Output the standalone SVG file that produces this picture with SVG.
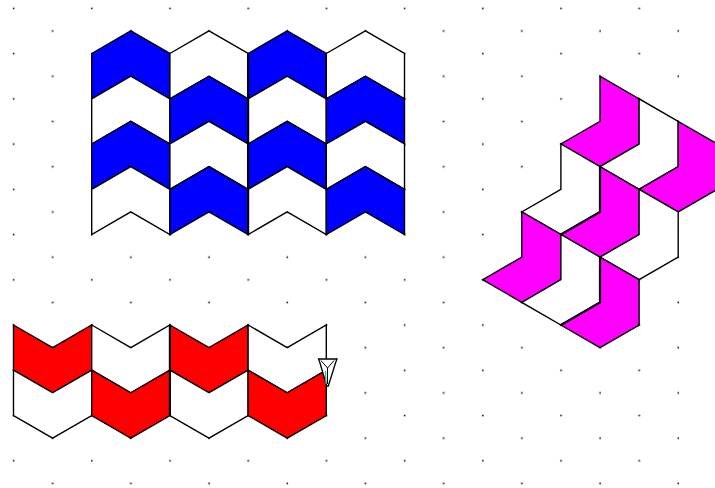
<svg xmlns="http://www.w3.org/2000/svg" width="715" height="488" viewBox="0 0 715 488">
<style>
.t{stroke:#000;stroke-width:1.4;stroke-linejoin:miter}
.b{fill:#0000FF}
.r{fill:#FF0000}
.m{fill:#FF00FF}
.w{fill:#FFFFFF}
.bold{stroke:#000;stroke-width:2.2;fill:none}
</style>
<defs>
<pattern id="dots" patternUnits="userSpaceOnUse" x="0" y="0" width="78.2" height="45.24">
<rect x="12.8" y="7.6" width="1.6" height="1.6" fill="#111"/>
<rect x="51.9" y="30.2" width="1.6" height="1.6" fill="#111"/>
</pattern>
</defs>
<rect width="715" height="488" fill="#FFFFFF"/>
<rect id="grid" width="715" height="488" fill="url(#dots)"/>

<g id="blue" class="t">
<polygon class="b" points="91.7,53.5 130.8,30.9 169.9,53.5 169.9,98.8 130.8,76.2 91.7,98.8"/>
<polygon class="w" points="91.7,98.8 130.8,76.2 169.9,98.8 169.9,144 130.8,121.4 91.7,144"/>
<polygon class="b" points="91.7,144 130.8,121.4 169.9,144 169.9,189.3 130.8,166.6 91.7,189.3"/>
<polygon class="w" points="91.7,189.3 130.8,166.6 169.9,189.3 169.9,234.5 130.8,211.9 91.7,234.5"/>

<polygon class="w" points="169.9,53.5 209,30.9 248.1,53.5 248.1,98.8 209,76.2 169.9,98.8"/>
<polygon class="b" points="169.9,98.8 209,76.2 248.1,98.8 248.1,144 209,121.4 169.9,144"/>
<polygon class="w" points="169.9,144 209,121.4 248.1,144 248.1,189.3 209,166.6 169.9,189.3"/>
<polygon class="b" points="169.9,189.3 209,166.6 248.1,189.3 248.1,234.5 209,211.9 169.9,234.5"/>

<polygon class="b" points="248.1,53.5 287.2,30.9 326.3,53.5 326.3,98.8 287.2,76.2 248.1,98.8"/>
<polygon class="w" points="248.1,98.8 287.2,76.2 326.3,98.8 326.3,144 287.2,121.4 248.1,144"/>
<polygon class="b" points="248.1,144 287.2,121.4 326.3,144 326.3,189.3 287.2,166.6 248.1,189.3"/>
<polygon class="w" points="248.1,189.3 287.2,166.6 326.3,189.3 326.3,234.5 287.2,211.9 248.1,234.5"/>

<polygon class="w" points="326.3,53.5 365.4,30.9 404.5,53.5 404.5,98.8 365.4,76.2 326.3,98.8"/>
<polygon class="b" points="326.3,98.8 365.4,76.2 404.5,98.8 404.5,144 365.4,121.4 326.3,144"/>
<polygon class="w" points="326.3,144 365.4,121.4 404.5,144 404.5,189.3 365.4,166.6 326.3,189.3"/>
<polygon class="b" points="326.3,189.3 365.4,166.6 404.5,189.3 404.5,234.5 365.4,211.9 326.3,234.5"/>
<line class="bold" x1="248.1" y1="53.5" x2="248.1" y2="234.5"/>
</g>

<g id="red" class="t">
<polygon class="r" points="13.5,325 52.6,347.6 91.7,325 91.7,370.2 52.6,392.8 13.5,370.2"/>
<polygon class="w" points="13.5,370.2 52.6,392.8 91.7,370.2 91.7,415.5 52.6,438.1 13.5,415.5"/>
<polygon class="w" points="91.7,325 130.8,347.6 169.9,325 169.9,370.2 130.8,392.8 91.7,370.2"/>
<polygon class="r" points="91.7,370.2 130.8,392.8 169.9,370.2 169.9,415.5 130.8,438.1 91.7,415.5"/>
<polygon class="r" points="169.9,325 209,347.6 248.1,325 248.1,370.2 209,392.8 169.9,370.2"/>
<polygon class="w" points="169.9,370.2 209,392.8 248.1,370.2 248.1,415.5 209,438.1 169.9,415.5"/>
<polygon class="w" points="248.1,325 287.2,347.6 326.3,325 326.3,370.2 287.2,392.8 248.1,370.2"/>
<polygon class="r" points="248.1,370.2 287.2,392.8 326.3,370.2 326.3,415.5 287.2,438.1 248.1,415.5"/>
<line class="bold" x1="169.9" y1="325" x2="169.9" y2="415.5"/>
</g>

<g id="magenta" class="t">
<polygon class="m" points="600,76.2 600,121.4 560.9,144 600,166.6 639.1,144 639.1,98.8"/>
<polygon class="w" points="639.1,98.8 639.1,144 600,166.6 639.1,189.3 678.2,166.6 678.2,121.4"/>
<polygon class="m" points="678.2,121.4 678.2,166.6 639.1,189.3 678.2,211.9 717.3,189.3 717.3,144"/>
<polygon class="w" points="560.9,144 560.9,189.3 521.8,211.9 560.9,234.5 600,211.9 600,166.6"/>
<polygon class="m" points="600,166.6 600,211.9 560.9,234.5 600,257.1 639.1,234.5 639.1,189.3"/>
<polygon class="w" points="639.1,189.3 639.1,234.5 600,257.1 639.1,279.7 678.2,257.1 678.2,211.9"/>
<polygon class="m" points="521.8,211.9 521.8,257.1 482.7,279.7 521.8,302.4 560.9,279.7 560.9,234.5"/>
<polygon class="w" points="560.9,234.5 560.9,279.7 521.8,302.4 560.9,325 600,302.4 600,257.1"/>
<polygon class="m" points="600,257.1 600,302.4 560.9,325 600,347.6 639.1,325 639.1,279.7"/>
<polyline class="bold" points="600,166.6 600,211.9 560.9,234.5"/>
<polyline class="bold" points="600,257.1 600,302.4 560.9,325"/>
</g>

<g id="cursor">
<polygon points="318.5,359 337,359 335.5,363 328.3,386 326.7,386 320,363" fill="#FFFFFF" stroke="#000" stroke-width="1.3"/>
<polyline points="321,360.5 327.5,368 334,360.5" fill="none" stroke="#000" stroke-width="1"/>
<line x1="327.5" y1="368" x2="327.5" y2="384" stroke="#000" stroke-width="1"/>
<line x1="325.5" y1="371" x2="326" y2="384" stroke="#00C8C8" stroke-width="1.3"/>
</g>
</svg>
